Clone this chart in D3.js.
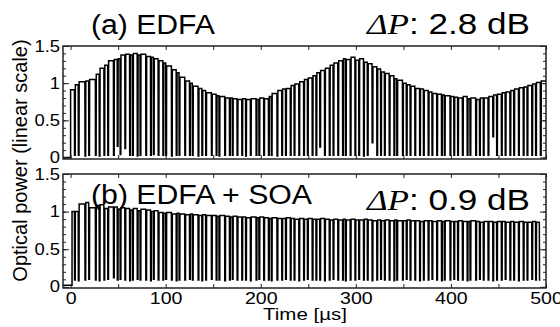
<!DOCTYPE html>
<html><head><meta charset="utf-8">
<script src="https://cdn.jsdelivr.net/npm/d3@7"></script>
<style>body{margin:0;background:#fff}</style></head>
<body>
<svg id="c" width="560" height="327"></svg>
<script>
// ---------------- data ----------------
const xTicks = [0, 100, 200, 300, 400, 500];
const yTicks = [0, 0.5, 1, 1.5];
const titleA = "(a) EDFA", titleB = "(b) EDFA + SOA";
const deltaA = ": 2.8 dB", deltaB = ": 0.9 dB";
const xLabel = "Time [\u00b5s]", yLabel = "Optical power (linear scale)";
const gapDur = 1.0; // µs, inter-packet gap
// packet start times (µs)
const pktStart = [0,5,9,16,20,27,31,36,40,46,50,53,58,63,66,71,74,80,85,88,93,98,101,107,112,115,121,126,129,135,139,143,149,154,157,163,168,171,176,181,185,190,196,199,204,209,212,218,223,227,232,236,241,246,250,255,259,263,268,273,277,282,287,290,295,300,304,309,313,318,323,327,331,336,341,344,350,354,358,363,368,372,377,381,386,391,394,400,404,408,413,418,421,427,431,435,440,445,449,454,458,463,467,472,477,481,486,490,495];
// (a) EDFA packet power levels
const levelA = [0.91,0.98,1.02,1.03,1.05,1.12,1.20,1.24,1.30,1.32,
 1.33,1.38,1.39,1.38,1.40,1.38,1.39,1.36,1.35,1.33,
 1.30,1.27,1.23,1.18,1.14,1.08,1.03,1.00,0.96,0.93,
 0.90,0.87,0.85,0.83,0.82,0.80,0.80,0.79,0.78,0.79,
 0.78,0.79,0.78,0.80,0.79,0.82,0.86,0.90,0.92,0.93,
 0.97,0.99,1.02,1.05,1.07,1.10,1.14,1.17,1.20,1.24,
 1.27,1.30,1.33,1.32,1.35,1.31,1.33,1.28,1.26,1.22,
 1.19,1.15,1.13,1.10,1.06,1.04,1.00,0.98,0.96,0.93,
 0.92,0.90,0.88,0.86,0.85,0.84,0.83,0.82,0.81,0.80,
 0.82,0.79,0.80,0.78,0.80,0.80,0.82,0.84,0.85,0.87,
 0.88,0.90,0.92,0.94,0.95,0.97,0.99,1.01,1.03];
// (a) minimum power reached in each gap
const floorA = [0.03,0.03,0.02,0.03,0.03,0.02,0.03,0.03,0.03,0.15,
 0.04,0.12,0.03,0.03,0.02,0.03,0.03,0.03,0.04,0.03,
 0.03,0.03,0.02,0.03,0.03,0.03,0.03,0.03,0.02,0.03,
 0.03,0.03,0.03,0.02,0.03,0.03,0.03,0.03,0.03,0.02,
 0.03,0.03,0.03,0.03,0.03,0.03,0.02,0.03,0.03,0.03,
 0.03,0.03,0.03,0.03,0.03,0.03,0.14,0.03,0.03,0.03,
 0.03,0.03,0.03,0.03,0.03,0.03,0.02,0.03,0.20,0.03,
 0.03,0.03,0.03,0.03,0.03,0.03,0.03,0.03,0.03,0.03,
 0.03,0.03,0.03,0.03,0.03,0.03,0.03,0.03,0.03,0.03,
 0.03,0.03,0.03,0.03,0.03,0.03,0.28,0.03,0.03,0.03,
 0.03,0.03,0.03,0.03,0.03,0.03,0.03,0.03];
// (b) EDFA + SOA packet power levels
const levelB = [1.00,1.00,1.10,1.12,1.05,1.08,1.09,1.04,1.06,1.06,
 1.03,1.05,1.04,1.02,1.04,1.01,1.03,1.02,1.00,1.01,
 0.99,0.98,0.99,0.97,0.98,0.97,0.96,0.97,0.96,0.95,
 0.96,0.95,0.95,0.94,0.95,0.94,0.93,0.94,0.93,0.93,
 0.92,0.93,0.92,0.93,0.92,0.91,0.92,0.91,0.91,0.92,
 0.91,0.90,0.91,0.90,0.91,0.90,0.90,0.91,0.90,0.89,
 0.90,0.89,0.90,0.89,0.90,0.89,0.89,0.90,0.89,0.88,
 0.89,0.88,0.89,0.88,0.89,0.88,0.88,0.89,0.88,0.88,
 0.87,0.88,0.88,0.87,0.88,0.87,0.88,0.87,0.87,0.88,
 0.87,0.87,0.88,0.87,0.86,0.87,0.87,0.86,0.87,0.87,
 0.86,0.87,0.86,0.87,0.86,0.86,0.87,0.86,0.86];
const floorB = [0.09,0.08,0.09,0.10,0.09,0.08,0.09,0.10,0.12,0.09,
 0.10,0.09,0.08,0.09,0.10,0.09,0.09,0.08,0.10,0.09,
 0.09,0.10,0.09,0.08,0.09,0.09,0.10,0.09,0.09,0.08,
 0.09,0.10,0.09,0.09,0.08,0.09,0.10,0.09,0.09,0.09,
 0.08,0.09,0.10,0.09,0.09,0.08,0.09,0.09,0.10,0.09,
 0.09,0.08,0.09,0.10,0.09,0.09,0.09,0.08,0.09,0.10,
 0.09,0.09,0.08,0.09,0.09,0.10,0.09,0.09,0.08,0.09,
 0.10,0.09,0.09,0.08,0.09,0.09,0.10,0.09,0.09,0.08,
 0.09,0.09,0.10,0.09,0.08,0.09,0.09,0.10,0.09,0.09,
 0.08,0.09,0.09,0.10,0.09,0.09,0.08,0.09,0.09,0.10,
 0.09,0.09,0.08,0.09,0.09,0.10,0.09,0.08];
const traceEnd = [502, 493]; // µs where each recorded trace stops

// ---------------- drawing ----------------
const svg = d3.select('#c');
const FONT = "'Liberation Sans', Arial, sans-serif";
const x = d3.scaleLinear().domain([-8, 500]).range([63, 546]);
const panels = [
  {lv: levelA, fl: floorA, y: d3.scaleLinear().domain([-0.02, 1.5]).range([159, 46]), t0: 0, pre: 0.0, labels: false, end: traceEnd[0]},
  {lv: levelB, fl: floorB, y: d3.scaleLinear().domain([-0.015, 1.5]).range([288, 174]), t0: 1.5, pre: 0.02, labels: true, end: traceEnd[1]}
];
const minorY = d3.range(0, 1.51, 0.1).map(v => +v.toFixed(2));
const minorX = d3.range(0, 501, 50);

panels.forEach((p, k) => {
  const g = svg.append('g');
  const [y1, y0] = p.y.range();
  const id = 'clip' + k;
  g.append('clipPath').attr('id', id).append('rect')
    .attr('x', 63).attr('y', y0).attr('width', 546 - 63).attr('height', y1 - y0);
  // build trace
  const pts = [[-8, p.pre], [p.t0, p.pre]];
  for (let i = 0; i < pktStart.length; i++) {
    const s = i === 0 ? p.t0 : pktStart[i];
    if (s >= p.end) break;
    const next = pktStart[i + 1];
    const last = next === undefined || next >= p.end;
    const e = last ? p.end : next - gapDur;
    const lv = p.lv[i] ?? p.lv[p.lv.length - 1];
    pts.push([s, lv], [e, lv]);
    if (!last) {
      const f = p.fl[i] ?? 0.05;
      pts.push([e + 0.15, f], [next - 0.15, f]);
    } else if (p.end < 500) {
      pts.push([e + 0.2, p.fl[i] ?? 0.05]);
    }
  }
  g.append('path').attr('clip-path', `url(#${id})`)
    .attr('d', d3.line().x(d => x(d[0])).y(d => p.y(d[1]))(pts))
    .attr('fill', 'none').attr('stroke', '#000').attr('stroke-width', 1.5)
    .attr('stroke-linejoin', 'miter');

  // axes (ticks inward)
  const ax = (axis, tr) => {
    const a = g.append('g').attr('transform', tr).call(axis);
    a.select('.domain').remove();
    a.selectAll('line').attr('stroke', '#222').attr('stroke-width', 1);
    return a;
  };
  ax(d3.axisLeft(p.y).tickValues(minorY).tickSize(-3).tickFormat(''), 'translate(63,0)');
  const yl = ax(d3.axisLeft(p.y).tickValues(yTicks).tickSize(-6).tickPadding(3).tickFormat(d3.format('')), 'translate(63,0)');
  yl.selectAll('text').attr('font-family', FONT).attr('font-size', 16).attr('fill', '#000');
  ax(d3.axisRight(p.y).tickValues(minorY).tickSize(-3).tickFormat(''), 'translate(546,0)');
  ax(d3.axisRight(p.y).tickValues(yTicks).tickSize(-6).tickFormat(''), 'translate(546,0)');
  ax(d3.axisTop(x).tickValues(minorX).tickSize(-4).tickFormat(''), `translate(0,${y0})`);
  const xb = ax(d3.axisBottom(x).tickValues(minorX).tickSize(-4).tickPadding(4)
    .tickFormat(d => (p.labels && xTicks.includes(d)) ? d : ''), `translate(0,${y1})`);
  xb.selectAll('text').attr('font-family', FONT).attr('font-size', 17).attr('fill', '#000');

  // stretch tick labels horizontally like the reference
  g.selectAll('.tick text').each(function() {
    const t = d3.select(this);
    if (!t.text()) return;
    const w = this.getComputedTextLength();
    t.attr('textLength', w * 1.15).attr('lengthAdjust', 'spacingAndGlyphs');
  });

  g.append('rect').attr('x', 63).attr('y', y0).attr('width', 546 - 63).attr('height', y1 - y0)
    .attr('fill', 'none').attr('stroke', '#222').attr('stroke-width', 1.5);
});

// titles
svg.append('text').attr('x', 91).attr('y', 34).attr('font-family', FONT).attr('font-size', 27)
  .attr('textLength', 124).attr('lengthAdjust', 'spacingAndGlyphs').text(titleA);
svg.append('text').attr('x', 91).attr('y', 204).attr('font-family', FONT).attr('font-size', 27)
  .attr('textLength', 221).attr('lengthAdjust', 'spacingAndGlyphs').text(titleB);
function delta(yb, val) {
  const t = svg.append('text').attr('x', 367).attr('y', yb).attr('font-family', FONT).attr('font-size', 30)
    .attr('textLength', 163).attr('lengthAdjust', 'spacingAndGlyphs');
  t.append('tspan').attr('font-family', "'Liberation Serif', 'Times New Roman', serif").attr('font-style', 'italic').text('\u0394P');
  t.append('tspan').text(val);
}
delta(34, deltaA);
delta(210, deltaB);

// axis labels
svg.append('text').attr('x', 305).attr('y', 320).attr('text-anchor', 'middle').attr('font-family', FONT)
  .attr('font-size', 16).attr('textLength', 84).attr('lengthAdjust', 'spacingAndGlyphs').text(xLabel);
svg.append('text').attr('transform', 'translate(27,160.5) rotate(-90)').attr('text-anchor', 'middle')
  .attr('font-family', FONT).attr('font-size', 20).text(yLabel);
</script>
</body></html>
